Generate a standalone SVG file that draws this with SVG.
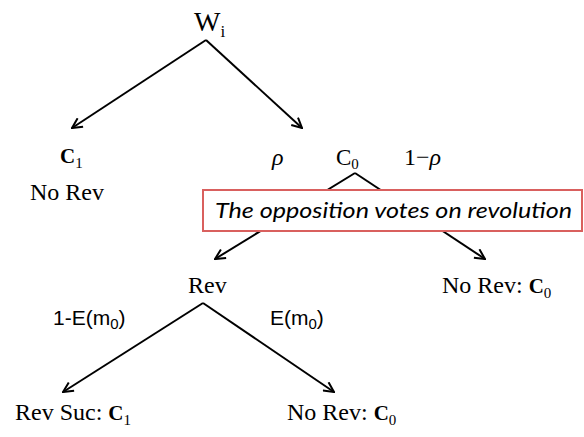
<svg xmlns="http://www.w3.org/2000/svg" width="584" height="437" viewBox="0 0 584 437">
<style>
.s{font-family:"Liberation Serif","Times New Roman",serif;font-size:24px;fill:#000}
.b{font-weight:bold;font-size:21px}
.sub{font-size:15px}
.a{font-family:"Liberation Sans",Arial,sans-serif;font-size:21px;fill:#000}
.i{font-style:italic}
.e{stroke:#000;stroke-width:2;fill:none}
</style>
<defs>
<marker id="ah" viewBox="0 0 12 12" refX="11" refY="6" markerWidth="12" markerHeight="12" orient="auto" markerUnits="userSpaceOnUse">
<path d="M1,1 L11,6 L1,11" fill="none" stroke="#000" stroke-width="2"/>
</marker>
</defs>
<g id="connectors">
<line class="e" x1="206" y1="40" x2="72" y2="128" marker-end="url(#ah)"/>
<line class="e" x1="206" y1="40" x2="302" y2="128" marker-end="url(#ah)"/>
<line class="e" x1="355" y1="173" x2="215" y2="259" marker-end="url(#ah)"/>
<line class="e" x1="355" y1="173" x2="485" y2="259" marker-end="url(#ah)"/>
<line class="e" x1="203" y1="303" x2="63" y2="392" marker-end="url(#ah)"/>
<line class="e" x1="203" y1="303" x2="334" y2="392" marker-end="url(#ah)"/>
</g>
<g id="root"><text class="s" x="194" y="31" style="font-size:28px">W<tspan class="sub" dy="6" style="font-size:17px">i</tspan></text></g>
<g id="c1">
<text class="s b" x="60" y="163">C<tspan class="sub" dy="5" style="font-weight:normal">1</tspan></text>
<text class="s" x="30" y="200">No Rev</text>
</g>
<g id="c0">
<text class="s i" x="272" y="165">ρ</text>
<text class="s" x="336" y="165" style="font-size:23px">C<tspan class="sub" dy="4">0</tspan></text>
<text class="s" x="404" y="165">1−<tspan class="i">ρ</tspan></text>
</g>
<g id="note">
<rect x="203" y="190" width="379" height="41" fill="#fff" stroke="#d9605e" stroke-width="2"/>
<text x="215" y="218" font-family="Lato,'Open Sans',sans-serif" font-style="italic" font-size="21" textLength="357" lengthAdjust="spacingAndGlyphs">The opposition votes on revolution</text>
</g>
<g id="rev">
<text class="s" x="188" y="293">Rev</text>
<text class="a" x="53" y="325">1-E(m<tspan class="sub" dy="4">0</tspan><tspan dy="-4">)</tspan></text>
<text class="a" x="270" y="325">E(m<tspan class="sub" dy="4">0</tspan><tspan dy="-4">)</tspan></text>
</g>
<g id="norev1"><text class="s" x="442" y="293">No Rev: <tspan class="b">C</tspan><tspan class="sub" dy="5">0</tspan></text></g>
<g id="revsuc"><text class="s" x="15" y="420">Rev Suc: <tspan class="b">C</tspan><tspan class="sub" dy="5">1</tspan></text></g>
<g id="norev2"><text class="s" x="287" y="420">No Rev: <tspan class="b">C</tspan><tspan class="sub" dy="5">0</tspan></text></g>
</svg>
